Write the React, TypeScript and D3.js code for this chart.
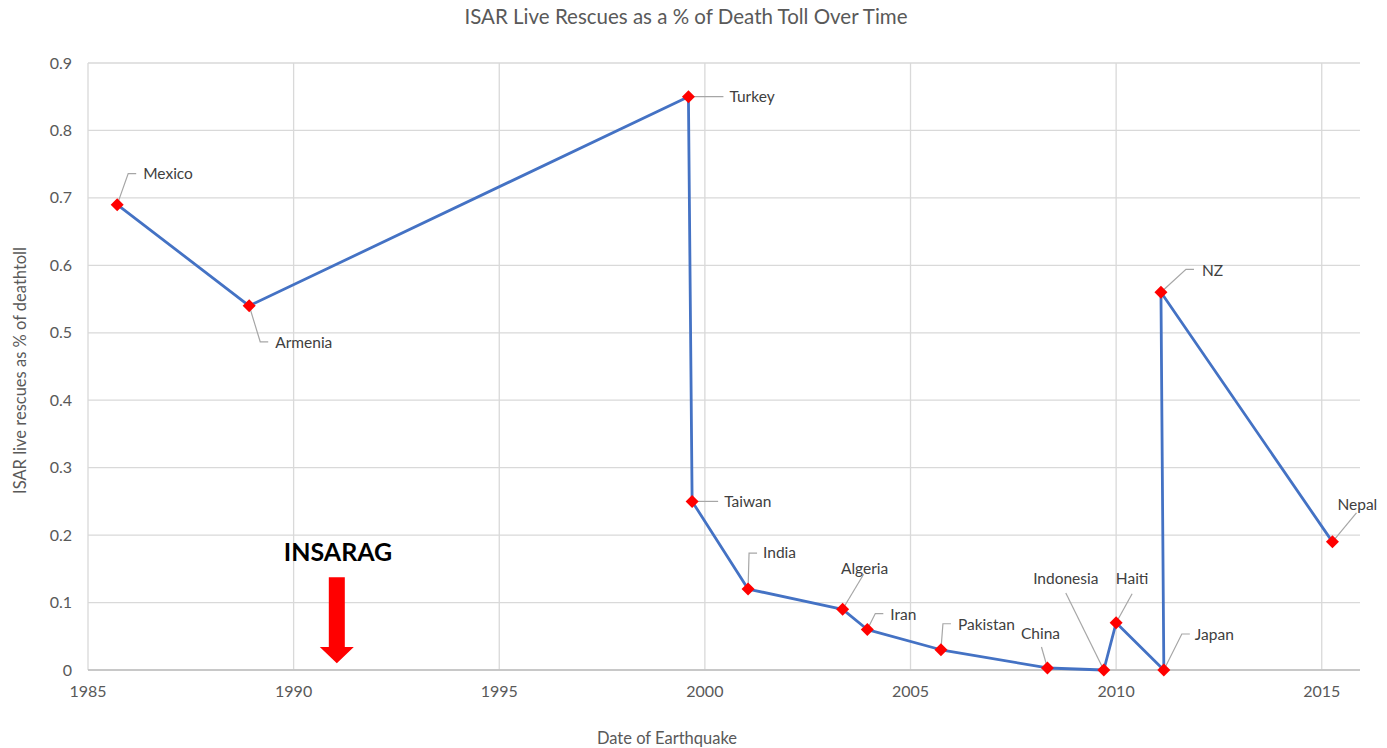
import React from 'react';
import * as d3 from 'd3';

// earthquakes, in the order the series was plotted
const quakes = ['Mexico', 'Armenia', 'Turkey', 'Taiwan', 'India', 'Algeria', 'Iran', 'Pakistan', 'China', 'Indonesia', 'Haiti', 'Japan', 'NZ', 'Nepal'];
const years = [1985.71, 1988.92, 1999.6, 1999.69, 2001.05, 2003.35, 2003.95, 2005.74, 2008.33, 2009.7, 2010.0, 2011.16, 2011.09, 2015.26];
const rescues = [0.69, 0.54, 0.85, 0.25, 0.12, 0.09, 0.06, 0.03, 0.003, 0, 0.07, 0, 0.56, 0.19];

const xTicks = [1985, 1990, 1995, 2000, 2005, 2010, 2015];
const yTicks = [0, 0.1, 0.2, 0.3, 0.4, 0.5, 0.6, 0.7, 0.8, 0.9];

// label placement (px offsets from the marker): elbow point, text anchor point, style
type Lab = { ex: number; ey: number; tx: number; ty: number; kind: 'elbow' | 'slant' | 'flat' };
const labelLayout: Lab[] = [
  { ex: 11, ey: -31, tx: 26, ty: -31, kind: 'elbow' },
  { ex: 11, ey: 36, tx: 26, ty: 37, kind: 'elbow' },
  { ex: 0, ey: 0, tx: 41, ty: 0, kind: 'flat' },
  { ex: 0, ey: 0, tx: 32, ty: 0, kind: 'flat' },
  { ex: 1, ey: -36, tx: 15, ty: -36, kind: 'elbow' },
  { ex: 21, ey: -35, tx: 22, ty: -41, kind: 'slant' },
  { ex: 8, ey: -16, tx: 23, ty: -15, kind: 'elbow' },
  { ex: 2, ey: -26, tx: 17, ty: -25, kind: 'elbow' },
  { ex: -6, ey: -21, tx: -7, ty: -34, kind: 'slant' },
  { ex: -38, ey: -77, tx: -38, ty: -91, kind: 'slant' },
  { ex: 16, ey: -29, tx: 16, ty: -44, kind: 'slant' },
  { ex: 18, ey: -36, tx: 31, ty: -35, kind: 'elbow' },
  { ex: 25, ey: -23, tx: 41, ty: -22, kind: 'elbow' },
  { ex: 24, ey: -29, tx: 5, ty: -37, kind: 'slant' },
];

const arrowYear = 1991.05;

const W = 1387;
const H = 748;
const margin = { left: 88, right: 1360, top: 63, bottom: 670 };
const font = 'Lato, "Open Sans", sans-serif';

export default function App() {
  const x = d3.scaleLinear().domain([1985, 2015.93]).range([margin.left, margin.right]);
  const y = d3.scaleLinear().domain([0, 0.9]).range([margin.bottom, margin.top]);

  const pts = years.map((yr, i) => [x(yr), y(rescues[i])] as [number, number]);
  const line = d3.line()(pts) || '';

  const diamond = (cx: number, cy: number, r = 6.5) =>
    `M${cx},${cy - r}L${cx + r},${cy}L${cx},${cy + r}L${cx - r},${cy}Z`;

  const ax = x(arrowYear);
  const aTop = y(0.1375);
  const aBase = y(0.034);
  const aTip = y(0.01);

  return (
    <svg width={W} height={H} style={{ display: 'block', position: 'absolute', left: 0, top: 0, background: '#fff' }}>
      <text x={686} y={24} textAnchor="middle" fontFamily={font} fontSize={20.5} fill="#595959">
        ISAR Live Rescues as a % of Death Toll Over Time
      </text>

      {/* grid */}
      {yTicks.map((t) => (
        <line key={'gy' + t} x1={margin.left} x2={margin.right} y1={y(t)} y2={y(t)} stroke="#d9d9d9" strokeWidth={1.3} />
      ))}
      {xTicks.map((t) => (
        <line key={'gx' + t} x1={x(t)} x2={x(t)} y1={margin.top} y2={margin.bottom} stroke="#d9d9d9" strokeWidth={1.3} />
      ))}
      <line x1={margin.left} x2={margin.right} y1={y(0)} y2={y(0)} stroke="#bfbfbf" strokeWidth={1.3} />

      {/* tick labels */}
      {yTicks.map((t) => (
        <text key={'ty' + t} x={72} y={y(t)} dy="0.35em" textAnchor="end" fontFamily={font} fontSize={16} fill="#595959">
          {t === 0 ? '0' : d3.format('.1f')(t)}
        </text>
      ))}
      {xTicks.map((t) => (
        <text key={'tx' + t} x={x(t)} y={691} dy="0.35em" textAnchor="middle" fontFamily={font} fontSize={16} fill="#595959">
          {t}
        </text>
      ))}

      {/* axis titles */}
      <text x={667} y={738} dy="0.35em" textAnchor="middle" fontFamily={font} fontSize={16.5} fill="#595959">
        Date of Earthquake
      </text>
      <text transform={`translate(20,${(margin.top + margin.bottom) / 2 + 4}) rotate(-90)`} dy="0.35em" textAnchor="middle" fontFamily={font} fontSize={16.5} fill="#595959">
        ISAR live rescues as % of deathtoll
      </text>

      {/* series */}
      <path d={line} fill="none" stroke="#4472c4" strokeWidth={2.8} strokeLinejoin="round" />

      {/* leader lines and labels */}
      {pts.map(([px, py], i) => {
        const l = labelLayout[i];
        const ex = px + l.ex;
        const ey = py + l.ey;
        let d = '';
        if (l.kind === 'flat') d = `M${px},${py}L${px + l.tx - 6},${py}`;
        else if (l.kind === 'elbow') d = `M${px},${py}L${ex},${ey}L${ex + 8},${ey}`;
        else d = `M${px},${py}L${ex},${ey}`;
        return (
          <path key={'ll' + i} d={d} fill="none" stroke="#a6a6a6" strokeWidth={1.2} />
        );
      })}
      {pts.map(([px, py], i) => {
        const l = labelLayout[i];
        const anchor = l.kind === 'slant' && i !== 13 ? 'middle' : 'start';
        return (
          <text key={'lb' + i} x={px + l.tx} y={py + l.ty} dy="0.35em" textAnchor={anchor} fontFamily={font} fontSize={15.5} fill="#404040">
            {quakes[i]}
          </text>
        );
      })}

      {/* markers */}
      {pts.map(([px, py], i) => (
        <path key={'m' + i} d={diamond(px, py)} fill="#ff0000" />
      ))}

      {/* INSARAG annotation */}
      <text x={338} y={y(0.175)} dy="0.35em" textAnchor="middle" fontFamily={font} fontWeight="bold" fontSize={25} fill="#000">
        INSARAG
      </text>
      <path
        d={`M${ax - 8},${aTop}L${ax + 8},${aTop}L${ax + 8},${aBase}L${ax + 17},${aBase}L${ax},${aTip}L${ax - 17},${aBase}L${ax - 8},${aBase}Z`}
        fill="#ff0000"
      />
    </svg>
  );
}
